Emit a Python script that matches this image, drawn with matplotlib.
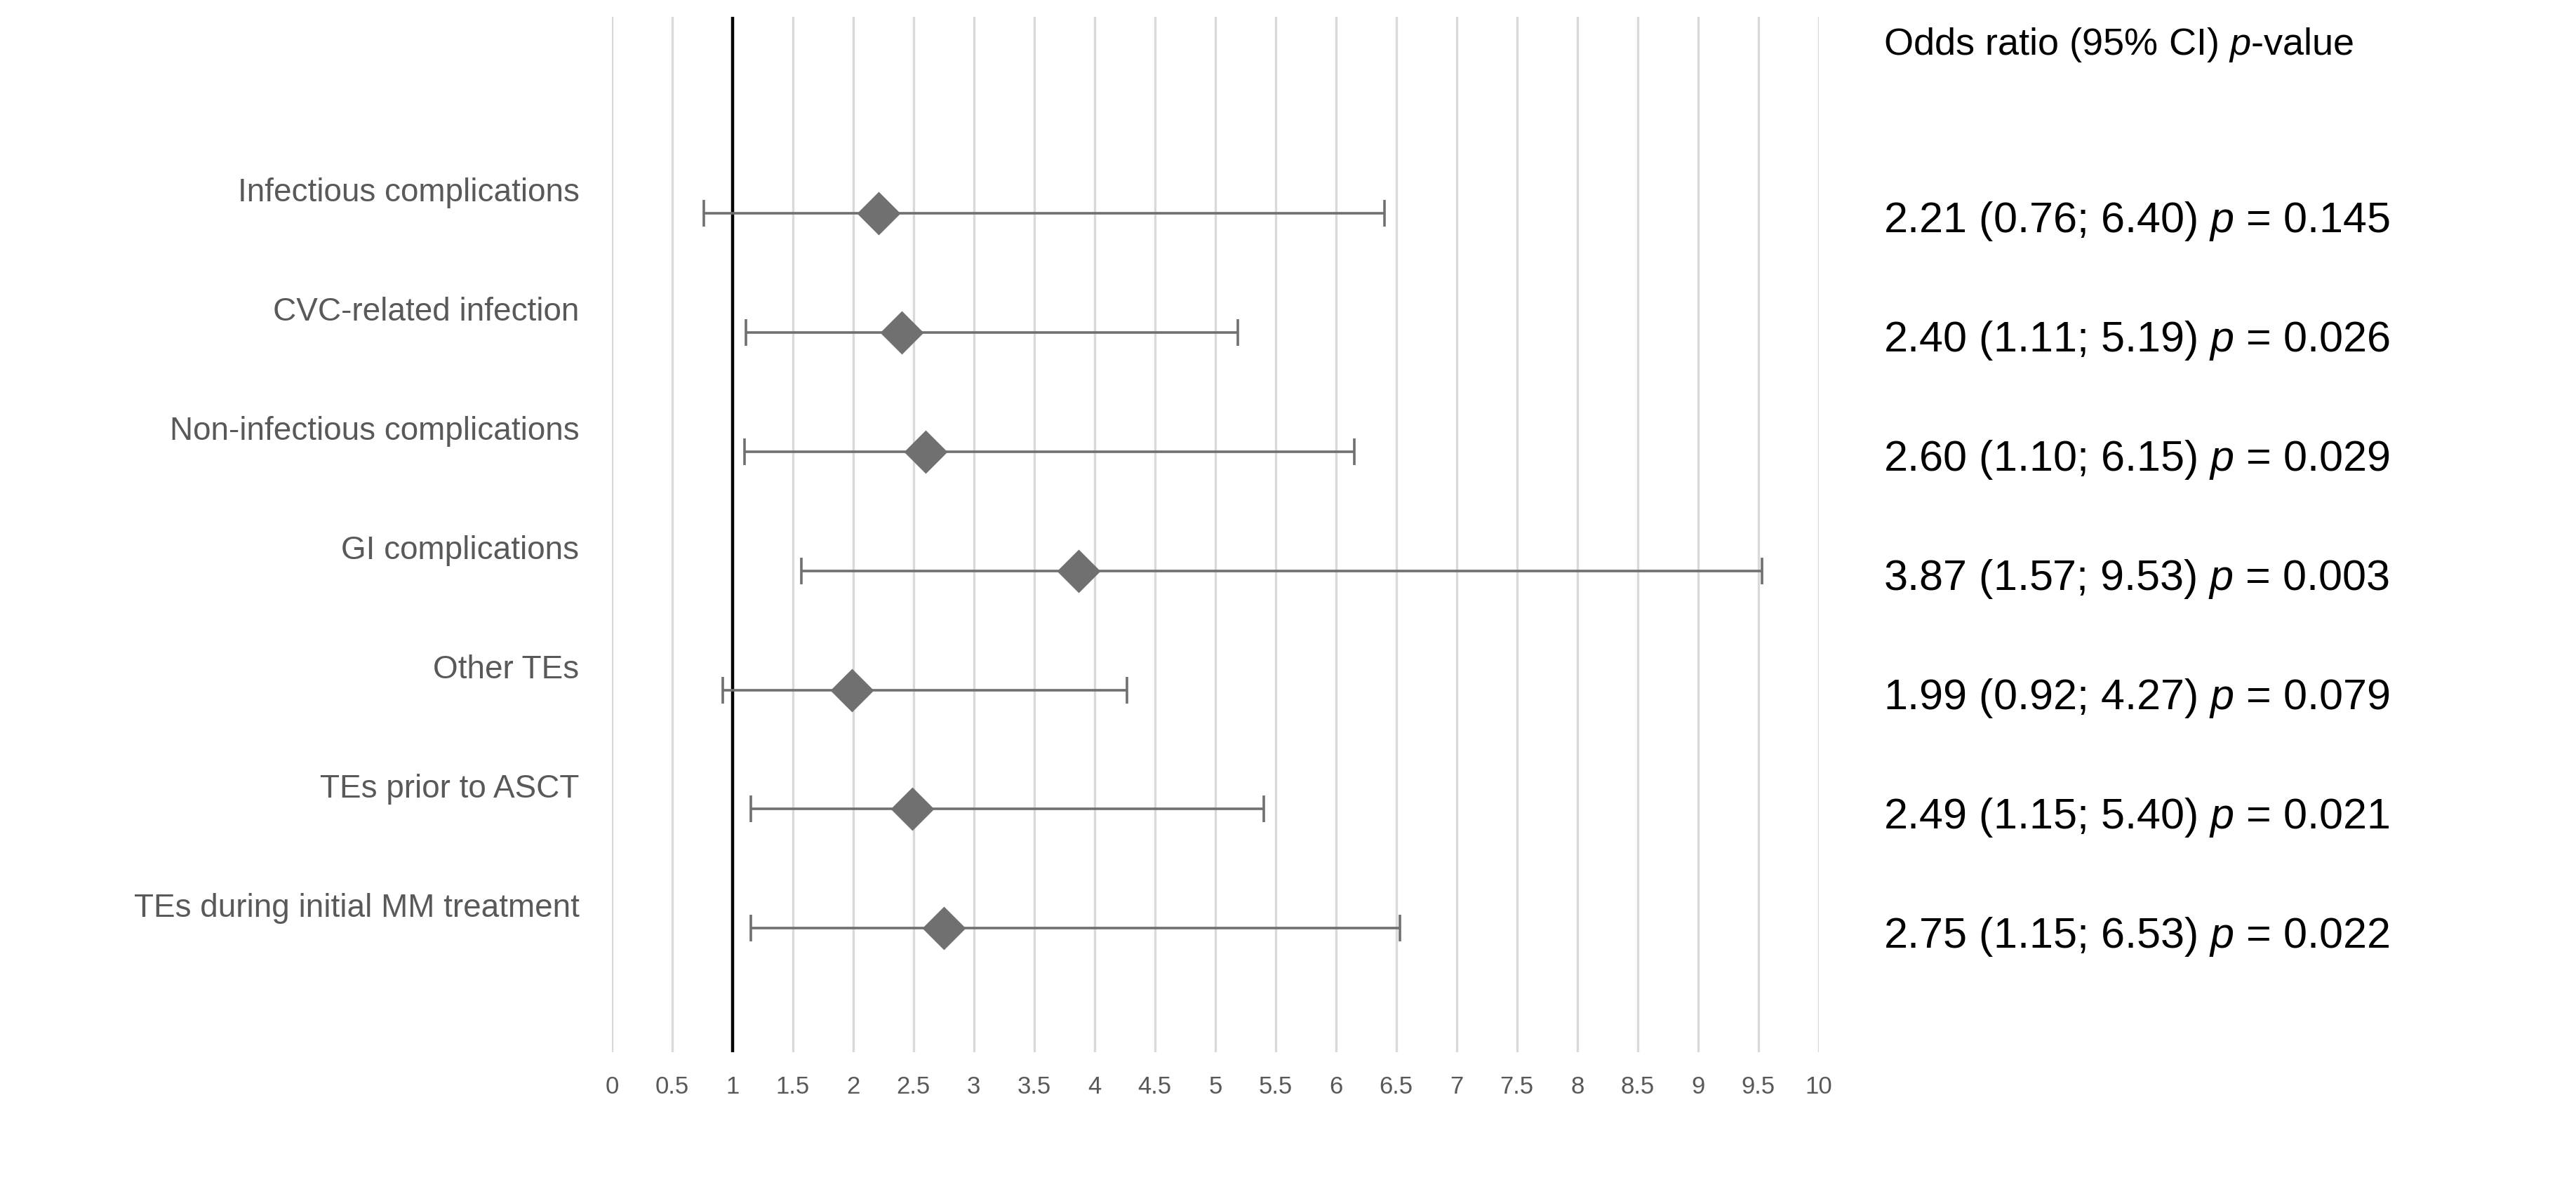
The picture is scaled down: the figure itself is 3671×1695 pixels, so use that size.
import matplotlib
matplotlib.use("Agg")
import matplotlib.pyplot as plt
import numpy as np

plt.rcParams['font.family'] = ['Liberation Sans', 'DejaVu Sans']
plt.rcParams['mathtext.fontset'] = 'custom'
plt.rcParams['mathtext.it'] = 'Liberation Sans:italic'
plt.rcParams['mathtext.rm'] = 'Liberation Sans'

labels = ["Infectious complications", "CVC-related infection", "Non-infectious complications",
          "GI complications", "Other TEs", "TEs prior to ASCT", "TEs during initial MM treatment"]
odds = [2.21, 2.40, 2.60, 3.87, 1.99, 2.49, 2.75]
lower = [0.76, 1.11, 1.10, 1.57, 0.92, 1.15, 1.15]
upper = [6.40, 5.19, 6.15, 9.53, 4.27, 5.40, 6.53]
pvals = ["0.145", "0.026", "0.029", "0.003", "0.079", "0.021", "0.022"]
ticks = [0, 0.5, 1, 1.5, 2, 2.5, 3, 3.5, 4, 4.5, 5, 5.5, 6, 6.5, 7, 7.5, 8, 8.5, 9, 9.5, 10]

fig = plt.figure(figsize=(18.355, 8.475), dpi=200)
ax = fig.add_axes([0.2375, 0.115, 0.706 - 0.2375, 0.986 - 0.115])
y = np.arange(1, len(labels) + 1)
for t in ticks:
    ax.axvline(t, color="#d9d9d9", lw=1.2, zorder=0)
ax.axvline(1, color="black", lw=1.6, zorder=1)
err = [np.array(odds) - np.array(lower), np.array(upper) - np.array(odds)]
ax.errorbar(odds, y, xerr=err, fmt="D", color="#707070", ecolor="#707070",
            elinewidth=1.3, capsize=7, capthick=1.3, markersize=15, zorder=3)
ax.set_xlim(0, 10)
ax.set_ylim(8.04, -0.65)
ax.set_xticks(ticks)
ax.set_xticklabels([f"{t:g}" for t in ticks], fontsize=12.5, color="#595959")
ax.tick_params(axis="x", length=0, pad=12)
ax.set_yticks([])
for s in ax.spines.values():
    s.set_visible(False)
for yi, lab in zip(y, labels):
    ax.text(-0.27, yi - 0.17, lab, ha="right", va="center", fontsize=16.5, color="#595959")
fig.text(0.731, 0.962, "Odds ratio (95% CI) $\\it{p}$-value", fontsize=19.5, va="center")
for yi, o, l, u, p in zip(y, odds, lower, upper, pvals):
    yy = ax.transData.transform((0, yi + 0.07))[1] / fig.bbox.height
    fig.text(0.731, yy, f"{o:.2f} ({l:.2f}; {u:.2f}) $\\it{{p}}$ = {p}", fontsize=22, va="center")
fig.savefig("out.png", dpi=200)
